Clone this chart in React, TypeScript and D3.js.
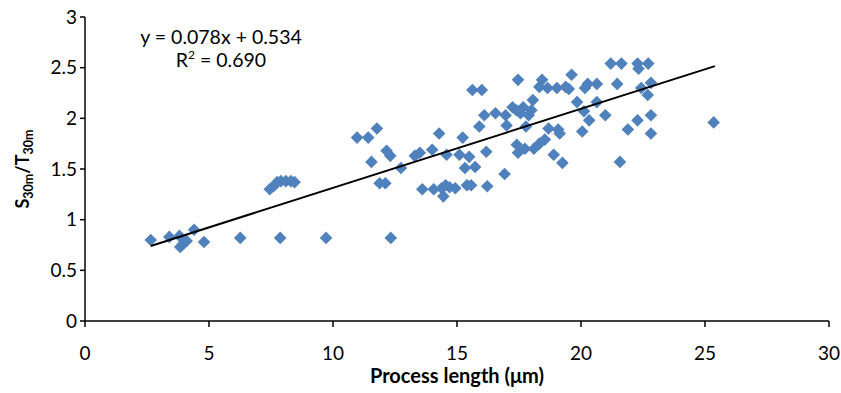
import React from "react";
import * as d3 from "d3";

const xValues: number[] = [
  2.65, 3.4, 3.81, 3.84, 3.95, 4.1, 4.4, 4.8, 6.26, 7.87, 9.72, 12.33,
  7.45, 7.6, 7.75, 7.9, 8.1, 8.3, 8.45,
  10.97, 11.42, 11.77, 11.55, 11.88, 12.11, 12.16, 12.31, 12.74, 13.3, 13.5,
  13.6, 14.06, 14.0, 14.28, 14.38, 14.45, 14.54, 14.58, 14.7, 14.93, 15.1,
  15.23, 15.32, 15.4, 15.49, 15.57, 15.62, 15.73, 15.9, 16.0, 16.1, 16.18,
  16.22, 16.55, 16.92, 16.96, 17.0, 17.24, 17.4, 17.46, 17.41, 17.46, 17.56,
  17.67, 17.74, 17.78, 17.89, 18.0, 18.06, 18.1, 18.32, 18.32, 18.43, 18.54,
  18.65, 18.69, 18.9, 19.03, 19.08, 19.14, 19.25, 19.38, 19.51, 19.62, 19.84,
  20.05, 20.16, 20.27, 20.33, 20.12, 20.64, 20.64, 20.98, 21.2, 21.46, 21.63,
  21.57, 21.89, 22.28, 22.28, 22.32, 22.43, 22.71, 22.69, 22.82, 22.82, 22.82,
  25.35,
];
const yValues: number[] = [
  0.8, 0.83, 0.84, 0.73, 0.76, 0.79, 0.9, 0.78, 0.82, 0.82, 0.82, 0.82,
  1.3, 1.33, 1.37, 1.38, 1.38, 1.38, 1.37,
  1.81, 1.81, 1.9, 1.57, 1.36, 1.36, 1.68, 1.63, 1.51, 1.63, 1.66,
  1.3, 1.3, 1.69, 1.85, 1.31, 1.23, 1.34, 1.64, 1.32, 1.31, 1.64,
  1.81, 1.51, 1.34, 1.62, 1.34, 2.28, 1.52, 1.92, 2.28, 2.03, 1.67,
  1.33, 2.05, 1.45, 2.03, 1.93, 2.11, 2.08, 2.38, 1.74, 1.66, 2.05,
  2.11, 1.7, 1.92, 2.03, 2.08, 2.18, 1.7, 1.75, 2.31, 2.38, 1.79,
  2.3, 1.9, 1.64, 2.3, 1.89, 1.85, 1.56, 2.31, 2.29, 2.43, 2.16,
  1.87, 2.3, 2.34, 1.98, 2.07, 2.34, 2.16, 2.03, 2.54, 2.34, 2.54,
  1.57, 1.89, 2.54, 1.98, 2.49, 2.3, 2.54, 2.23, 2.35, 2.03, 1.85,
  1.96,
];

const xTicks = [0, 5, 10, 15, 20, 25, 30];
const yTicks = [0, 0.5, 1, 1.5, 2, 2.5, 3];
const slope = 0.078;
const intercept = 0.534;
const trendRange = [2.65, 25.4];
const equationText = "y = 0.078x + 0.534";
const r2Value = "0.690";
const xLabel = "Process length (μm)";

const W = 841;
const H = 393;
const FONT = "Lato, 'Open Sans', sans-serif";
const BLUE = "#4F81BD";

export default function App() {
  const x = d3.scaleLinear().domain([0, 30]).range([85, 829]);
  const y = d3.scaleLinear().domain([0, 3]).range([321, 17]);
  const line = d3
    .line<number>()
    .x((d) => x(d))
    .y((d) => y(slope * d + intercept));
  const r = 6.3;
  const diamond = `M0,${-r}L${r},0L0,${r}L${-r},0Z`;

  return (
    <svg
      width={W}
      height={H}
      style={{ position: "absolute", left: 0, top: 0, background: "#fff" }}
      fontFamily={FONT}
    >
      <rect width={W} height={H} fill="#fff" />
      {/* axes */}
      <line x1={x(0)} x2={x(0)} y1={y(3)} y2={y(0)} stroke="#000" strokeWidth={1.5} />
      <line x1={x(0)} x2={x(30)} y1={y(0)} y2={y(0)} stroke="#000" strokeWidth={1.5} />
      {yTicks.map((t) => (
        <g key={"y" + t}>
          <line x1={x(0) - 5} x2={x(0)} y1={y(t)} y2={y(t)} stroke="#000" strokeWidth={1.5} />
          <text x={x(0) - 8} y={y(t)} dy="0.35em" textAnchor="end" fontSize={19} fill="#000">
            {t}
          </text>
        </g>
      ))}
      {xTicks.map((t) => (
        <g key={"x" + t}>
          <line x1={x(t)} x2={x(t)} y1={y(0)} y2={y(0) + 6} stroke="#000" strokeWidth={1.5} />
          <text x={x(t)} y={y(0) + 39} textAnchor="middle" fontSize={19} fill="#000">
            {t}
          </text>
        </g>
      ))}
      {/* points */}
      {xValues.map((xv, i) => (
        <path key={i} d={diamond} transform={`translate(${x(xv)},${y(yValues[i])})`} fill={BLUE} />
      ))}
      {/* trendline */}
      <path d={line(trendRange) || ""} fill="none" stroke="#000" strokeWidth={2} />
      {/* equation */}
      <text x={221} y={44} textAnchor="middle" fontSize={19.5} fill="#000">
        {equationText}
      </text>
      <text x={221} y={67} textAnchor="middle" fontSize={19.5} fill="#000">
        R<tspan dy={-8} fontSize={12}>2</tspan>
        <tspan dy={8}> = {r2Value}</tspan>
      </text>
      {/* x label */}
      <text x={457} y={383} textAnchor="middle" fontSize={20} fontWeight="bold" fill="#000">
        {xLabel}
      </text>
      {/* y label */}
      <text
        transform={`translate(29,${y(1.5)}) rotate(-90)`}
        textAnchor="middle"
        fontSize={18}
        fontWeight="bold"
        fill="#000"
      >
        S<tspan fontSize={12.5} dy={4}>30m</tspan>
        <tspan dy={-4}>/T</tspan>
        <tspan fontSize={12.5} dy={4}>30m</tspan>
      </text>
    </svg>
  );
}
